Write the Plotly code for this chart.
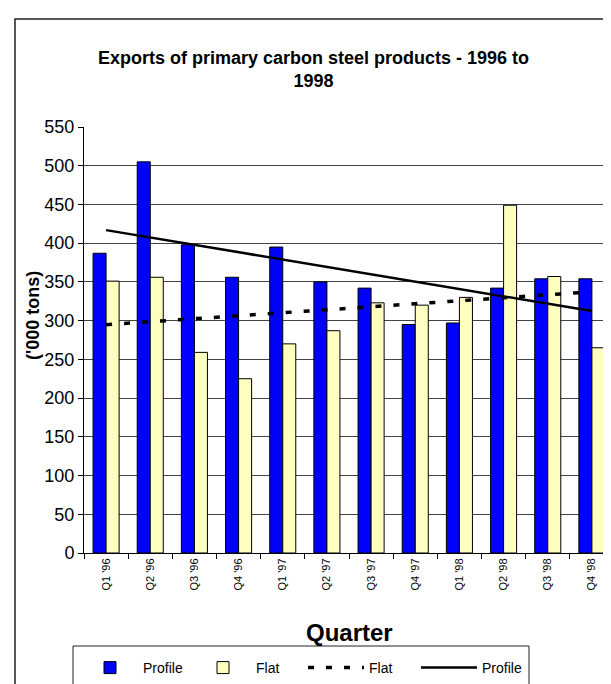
import numpy as np
import plotly.graph_objects as go

quarters = ["Q1 '96", "Q2 '96", "Q3 '96", "Q4 '96", "Q1 '97", "Q2 '97",
            "Q3 '97", "Q4 '97", "Q1 '98", "Q2 '98", "Q3 '98", "Q4 '98"]
profile = [387, 505, 398, 356, 395, 350, 342, 295, 297, 342, 354, 354]
flat = [351, 356, 259, 225, 270, 287, 323, 320, 330, 449, 357, 265]
y_ticks = list(range(0, 551, 50))

# linear trend lines (as in the original spreadsheet chart)
idx = np.arange(len(quarters))
p_fit = np.polyval(np.polyfit(idx, profile, 1), idx)
f_fit = np.polyval(np.polyfit(idx, flat, 1), idx)

W, H = 611, 684
L, R, T, B = 76, 5, 119, 139
PW, PH = W - L - R, H - T - B


def px(x):
    return (x - L) / PW


def py(y):
    return (H - B - y) / PH


FONT = "Liberation Sans, Arial, sans-serif"

fig = go.Figure()
fig.add_trace(go.Bar(x=quarters, y=profile, name="Profile",
                     marker=dict(color="#0000FF", line=dict(color="black", width=1))))
fig.add_trace(go.Bar(x=quarters, y=flat, name="Flat",
                     marker=dict(color="#FFFFC0", line=dict(color="black", width=1))))
fig.add_trace(go.Scatter(x=quarters, y=f_fit, name="Flat", mode="lines",
                         line=dict(color="black", width=3.5, dash="6px,12px")))
fig.add_trace(go.Scatter(x=quarters, y=p_fit, name="Profile", mode="lines",
                         line=dict(color="black", width=2.5)))

fig.update_layout(
    width=W, height=H,
    margin=dict(l=L, r=R, t=T, b=B),
    paper_bgcolor="white", plot_bgcolor="white",
    font=dict(family=FONT, color="black"),
    barmode="group", bargap=0.41, bargroupgap=0.0,
    title=dict(text="<b>Exports of primary carbon steel products - 1996 to<br>1998</b>",
               x=0.5, xref="container", xanchor="center",
               y=1 - 56 / H, yref="container", yanchor="middle",
               font=dict(size=18, family=FONT, color="black")),
    showlegend=True,
    legend=dict(orientation="h", x=px(69), xanchor="left", y=py(660), yanchor="middle",
                bgcolor="rgba(0,0,0,0)", font=dict(size=14, family=FONT),
                itemwidth=56, entrywidth=42, traceorder="normal"),
    xaxis=dict(type="category", tickson="boundaries", ticks="outside", ticklen=5,
               tickcolor="black", showline=True, linecolor="black", linewidth=1,
               tickangle=-90, tickfont=dict(size=11, family=FONT),
               showgrid=False, zeroline=False, fixedrange=True),
    yaxis=dict(range=[0, 550], tickvals=y_ticks, ticks="outside", ticklen=5,
               tickcolor="black", showline=True, linecolor="black", linewidth=1,
               showgrid=True, gridcolor="#444444", gridwidth=1, zeroline=False,
               tickfont=dict(size=18, family=FONT), fixedrange=True),
    annotations=[
        dict(text="<b>Quarter</b>", x=0.5, y=py(624), xref="paper", yref="paper",
             xanchor="center", yanchor="middle", showarrow=False,
             font=dict(size=24, family=FONT)),
        dict(text="<b>('000 tons)</b>", x=px(25), y=py(308), xref="paper", yref="paper",
             xanchor="center", yanchor="middle", showarrow=False, textangle=-90,
             font=dict(size=18, family=FONT)),
    ],
    shapes=[
        # outer chart frame
        dict(type="rect", xref="paper", yref="paper", x0=px(7), x1=px(640),
             y0=py(720), y1=py(11), line=dict(color="#222222", width=1.5),
             fillcolor="rgba(0,0,0,0)", layer="below"),
        # plot-area right edge
        dict(type="line", xref="paper", yref="paper", x0=1, x1=1, y0=0, y1=1,
             line=dict(color="#777777", width=1.5)),
        # legend box
        dict(type="rect", xref="paper", yref="paper", x0=px(65), x1=px(521),
             y0=py(720), y1=py(638), line=dict(color="#222222", width=1),
             fillcolor="rgba(0,0,0,0)"),
    ],
)

fig.write_html("out.html")
